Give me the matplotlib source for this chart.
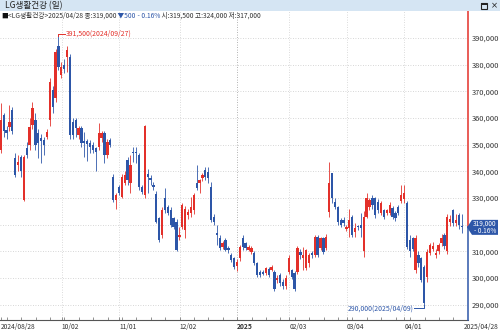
import numpy as np
import matplotlib
matplotlib.use("Agg")
import matplotlib.pyplot as plt
from matplotlib.patches import Rectangle, Polygon

plt.rcParams['font.family'] = ['Noto Sans CJK KR', 'DejaVu Sans']

# daily OHLC in thousand won, index -1 .. 159 (2024/08/27 .. 2025/04/28)
opens = [348, 361, 355.5, 356.8, 363, 344.9, 342.4, 345.5, 329.3, 348.6,
         349.9, 357.4, 359.3, 354.3, 352.4, 351.8, 353, 359.3, 370.5, 367.4,
         386.8, 376.2, 380, 383, 383, 358.6, 359.3, 353.6, 356.2, 351.4,
         351.2, 350.5, 349.9, 348.6, 349.3, 352.4, 354.3, 346.1, 351.7, 338,
         329.3, 334.3, 330.5, 335.5, 344.3, 335.5, 347.4, 347.4, 346.1, 334.3,
         331.1, 339, 337.4, 334.9, 331.7, 322.4, 316.1, 329.9, 326.8, 325.5,
         322.4, 321.1, 315.5, 319.3, 318, 323.6, 324.3, 325.5, 335.5, 335.5,
         337.4, 340.5, 339.9, 334.3, 323, 316.8, 314.9, 311.8, 314.3, 311.1,
         308.6, 307.4, 304.5, 307.4, 314.9, 313, 310.5, 309.9, 309.3, 305.5,
         302.4, 302.4, 301.8, 303.3, 303, 302.4, 299.3, 301.1, 298.6, 297,
         302.4, 303, 301.8, 302.4, 309.9, 307.4, 303.6, 305.5, 309.3, 308.6,
         315.5, 311.1, 314.9, 311.1, 324.9, 339.4, 328.6, 326.8, 321.8, 321.8,
         318.5, 318.6, 323, 317.4, 319.5, 320, 310, 323, 326.8, 329.9,
         329.9, 328.6, 324.3, 325.5, 324.3, 324.3, 326.1, 324.3, 326.8, 328.8,
         329.5, 328, 314.3, 315, 303, 308.6, 307.4, 304.3, 300.6, 309.4,
         311, 308.6, 310, 313, 316, 310, 321, 325.5, 320.6, 323.6,
         319.5]
highs = [365.5, 362, 357, 365, 364, 347, 346, 346, 346, 351,
         360, 366, 362, 356, 354, 353, 356, 375, 372, 386,
         391.5, 381, 382, 386.8, 384, 360, 360, 357, 357, 354.9,
         352, 351.7, 351, 349.2, 358, 355, 355, 352, 352.5, 339,
         332, 335, 339, 340, 345.5, 346.1, 349.2, 349.2, 347, 335,
         357.5, 341, 338.6, 336, 332.5, 323, 326.5, 333.6, 327.5, 326.5,
         323, 322, 319.3, 328, 327, 326, 330.5, 332, 342.4, 337,
         339.5, 341.7, 341.7, 336, 324, 319.9, 316, 314, 315, 312,
         309.5, 308, 307, 312.5, 316.1, 313.5, 312.5, 312, 310, 306,
         303, 303, 304.2, 304, 305, 303, 301, 302, 299.5, 301,
         308.5, 303.5, 302.5, 312, 311, 311.8, 311, 309.5, 310, 316,
         316, 315.5, 315.5, 316.5, 343.6, 339.4, 330, 327, 322.5, 323,
         320, 326, 323.5, 320.5, 320, 324.3, 325, 331.8, 330, 331,
         330.5, 329.5, 329, 326, 326, 328.5, 327, 325, 327.5, 334.9,
         335, 329, 316, 315.5, 316, 310, 308, 305, 311, 313,
         313.5, 311, 313, 316.5, 317, 324, 323.5, 326, 324, 324.5,
         324]
lows = [347, 353, 352, 355, 354, 338, 340, 338, 329, 345,
        348, 356, 348, 345, 343, 346, 352, 357, 362, 366,
        378, 375, 377, 377.4, 352, 352, 353, 352, 349, 345.5,
        344, 346.7, 347, 340, 348, 351, 343, 345, 349, 328.5,
        326, 331, 330, 335, 334.9, 331.8, 343.6, 343, 333, 331.5,
        330, 331.8, 334.9, 333, 320.5, 313.5, 315, 324.3, 323.5, 319,
        318.5, 310, 314.3, 318.5, 315, 322, 323, 324, 333, 331.8,
        336.5, 336.8, 335.5, 321, 320, 312.4, 310.5, 311, 310, 309.5,
        306, 303.5, 302.5, 306.5, 310.5, 310.5, 310, 309, 305, 300.5,
        300.5, 301, 301, 300.5, 302.5, 295, 298, 297, 296, 296,
        301.5, 299.5, 295, 301.5, 307, 303, 303, 304, 307.5, 308,
        308, 310.5, 309, 310.5, 323, 328, 326, 320, 319, 319.5,
        317.5, 315.5, 315.5, 315.5, 318, 315.5, 308, 322.4, 325.5, 326,
        322.5, 324.5, 323.5, 322, 323.5, 323.5, 322, 321.5, 323.5, 328,
        328, 311, 308, 310, 302, 304, 298.5, 290, 298.6, 308.5,
        310, 307.5, 309, 312, 311, 309, 319.5, 319.5, 319.5, 318.5,
        317]
closes = [359.3, 355, 354.3, 358.6, 355, 338.6, 343.6, 340, 345.5, 346.1,
          356.8, 363.6, 349.9, 350.5, 351.2, 349.9, 354.9, 373.6, 364.3, 384.9,
          379.3, 379.3, 378.5, 385.5, 353.6, 353.6, 356.2, 356.2, 350.5, 350.5,
          350.2, 349.2, 348, 347.4, 354.3, 354.3, 346.1, 351.1, 349.9, 329.3,
          331.1, 331.8, 338, 338.6, 336.8, 342.4, 346.8, 346.7, 334.3, 332.4,
          357, 338, 336.8, 334, 321.1, 314.3, 325.5, 325.5, 324.3, 319.9,
          319.3, 310.5, 316.1, 327.4, 326, 324.9, 326.8, 331.1, 333.6, 336.8,
          338.6, 338, 337.4, 321.8, 321.1, 316.1, 311.1, 313, 310.5, 310.5,
          306.8, 304.3, 306.1, 311.8, 311.8, 311.1, 311.8, 311.1, 305.5, 301.1,
          301.1, 301.5, 303.6, 301.1, 304.3, 296.1, 299.9, 298, 297, 300,
          307.4, 300.5, 296.1, 311.1, 308.6, 308.6, 310.5, 308.6, 308.6, 315.5,
          308.6, 314.9, 309.9, 315.5, 335.5, 330, 326.8, 321.1, 319.9, 320.5,
          319.3, 321.8, 316.1, 318.6, 319, 318.6, 323, 329.9, 329.3, 327.4,
          323.6, 325.5, 328, 323, 325.5, 327.4, 323, 322.4, 324.3, 331,
          332, 311.8, 310, 311, 315, 305.5, 299.3, 290.6, 309.9, 312.4,
          312, 309.5, 312.4, 315, 312, 323, 322, 320.6, 321.8, 320,
          319]

date_idx = [0, 21, 41, 62, 82, 100, 120, 140]
date_labels = ['2024/08/28', '10/02', '11/01', '12/02', '2025', '02/03', '03/04', '04/01']
last_date = '2025/04/28'
price_ticks = [290, 300, 310, 320, 330, 340, 350, 360, 370, 380, 390]

RED = '#e3302a'
BLUE = '#2d56a8'
TXT = '#333333'
W, H = 500, 332


def fx(px):
    return px / W


def fy(py):
    return 1 - py / H


o = np.array(opens) * 1000
h = np.array(highs) * 1000
l = np.array(lows) * 1000
c = np.array(closes) * 1000
x = np.arange(len(o)) - 1
colors = [RED if cc >= oo else BLUE for oo, cc in zip(o, c)]
last = c[-1]

fig = plt.figure(figsize=(W / 100, H / 100), dpi=100)
ax = fig.add_axes([0, fy(320), fx(468), fy(11) - fy(320)])
xmin, xmax = -1.28, 161.2
ymin, ymax = 284300, 400100
ax.set_xlim(xmin, xmax)
ax.set_ylim(ymin, ymax)

# grid
for p in price_ticks:
    ax.axhline(p * 1000, color='#c9c9c9', lw=0.6, ls=(0, (1, 2)), zorder=0)
grid_x = np.array(date_idx) - 0.9
for gx, lab in zip(grid_x[1:], date_labels[1:]):
    ax.axvline(gx, color='#999999' if lab == '2025' else '#cfcfcf',
               lw=0.6, ls=(0, (1, 2)), zorder=0)

# candles
ax.vlines(x, l, h, colors=colors, lw=0.7, alpha=0.85, zorder=2)
body = np.maximum(np.abs(c - o), 350)
ax.bar(x, body, bottom=np.minimum(o, c), width=0.8, color=colors, linewidth=0, zorder=3)

# axes styling
for s in ['top', 'left', 'right']:
    ax.spines[s].set_visible(False)
ax.spines['bottom'].set_color('#555555')
ax.spines['bottom'].set_linewidth(0.8)

ax.set_xticks(grid_x)
ax.set_xticklabels(date_labels)
for t in ax.get_xticklabels():
    t.set_ha('left')
    if t.get_text() == '2025':
        t.set_fontweight('bold')
ax.set_xticks(np.arange(2, 160, 5) - 0.9, minor=True)
ax.tick_params(axis='x', which='both', direction='in', length=2, width=0.5,
               color='#666666', labelsize=4.8, pad=2, labelcolor=TXT)

# right price labels; the one under the current price box is hidden
ax.yaxis.tick_right()
ax.set_yticks([p * 1000 for p in price_ticks])
ax.set_yticklabels([f'{p * 1000:,}' if abs(p * 1000 - last) > 3500 else ''
                    for p in price_ticks])
ax.tick_params(axis='y', length=0, pad=2.5, labelsize=5.4, labelcolor=TXT)

fig.text(fx(499), fy(327), last_date, ha='right', va='center', fontsize=4.8, color=TXT)

# right price line, red above last close, blue below
ax.plot([xmax, xmax], [last, ymax], color=RED, lw=1.1, clip_on=False, zorder=5)
ax.plot([xmax, xmax], [ymin, last], color=BLUE, lw=1.1, clip_on=False, zorder=5)

# current price box
ly = 38 + (390000 - last) / 1000 * 2.667
box = [(467, ly), (472, ly - 7.5), (498, ly - 7.5), (498, ly + 7.5), (472, ly + 7.5)]
fig.patches.append(Polygon([(fx(a), fy(b)) for a, b in box], closed=True,
                           transform=fig.transFigure, fc=BLUE, ec='none'))
fig.text(fx(496), fy(ly), f'{last:,.0f}\n- 0.16%', ha='right', va='center',
         fontsize=4.7, color='white', linespacing=1.0)

# high / low markers
hi_i = int(np.argmax(h))
lo_i = int(np.argmin(l))
hx, hy = x[hi_i], h[hi_i]
ax.plot([hx, hx, hx + 2.2], [hy - 600, hy, hy], color=RED, lw=0.7, zorder=4)
ax.text(hx + 2.4, hy, f'{hy:,.0f}(2024/09/27)', color=RED, fontsize=5, va='center', ha='left')
lx, lyv = x[lo_i], l[lo_i]
ax.plot([lx, lx, lx - 3.4], [lyv, lyv - 1300, lyv - 1300], color=BLUE, lw=0.7, zorder=4)
ax.text(lx - 3.6, lyv - 1300, f'{lyv:,.0f}(2025/04/09)', color=BLUE, fontsize=5,
        va='center', ha='right')

# title bar
fig.patches.append(Rectangle((0, fy(11)), 1, fy(0) - fy(11), transform=fig.transFigure,
                             fc='#d5e5f3', ec='none'))
fig.text(fx(5), fy(5.8), 'LG생활건강 (일)', fontsize=6.2, color='#222222', va='center')
fig.patches.append(Rectangle((fx(481), fy(9)), fx(6), fy(3) - fy(9), transform=fig.transFigure,
                             fc='none', ec='#222222', lw=0.8))
fig.patches.append(Rectangle((fx(481), fy(4.6)), fx(6), fy(3) - fy(4.6), transform=fig.transFigure,
                             fc='#222222', ec='none'))
fig.text(fx(494.5), fy(6), '×', fontsize=6, color='#222222', va='center', ha='center',
         family='DejaVu Sans')

# info line
pieces = [('■', '#111111'), ('<LG생활건강>2025/04/28 종:319,000', TXT), (' ▼500', BLUE),
          (' - 0.16%', BLUE), (' 시:319,500 고:324,000 저:317,000', TXT)]
t = fig.text(fx(1), fy(19.5), pieces[0][0], color=pieces[0][1], fontsize=4.8, va='bottom')
for s, col in pieces[1:]:
    t = ax.annotate(s, xy=(1, 0), xycoords=t, va='bottom', ha='left', color=col,
                    fontsize=4.8, annotation_clip=False)

fig.savefig('out.png', dpi=100)
